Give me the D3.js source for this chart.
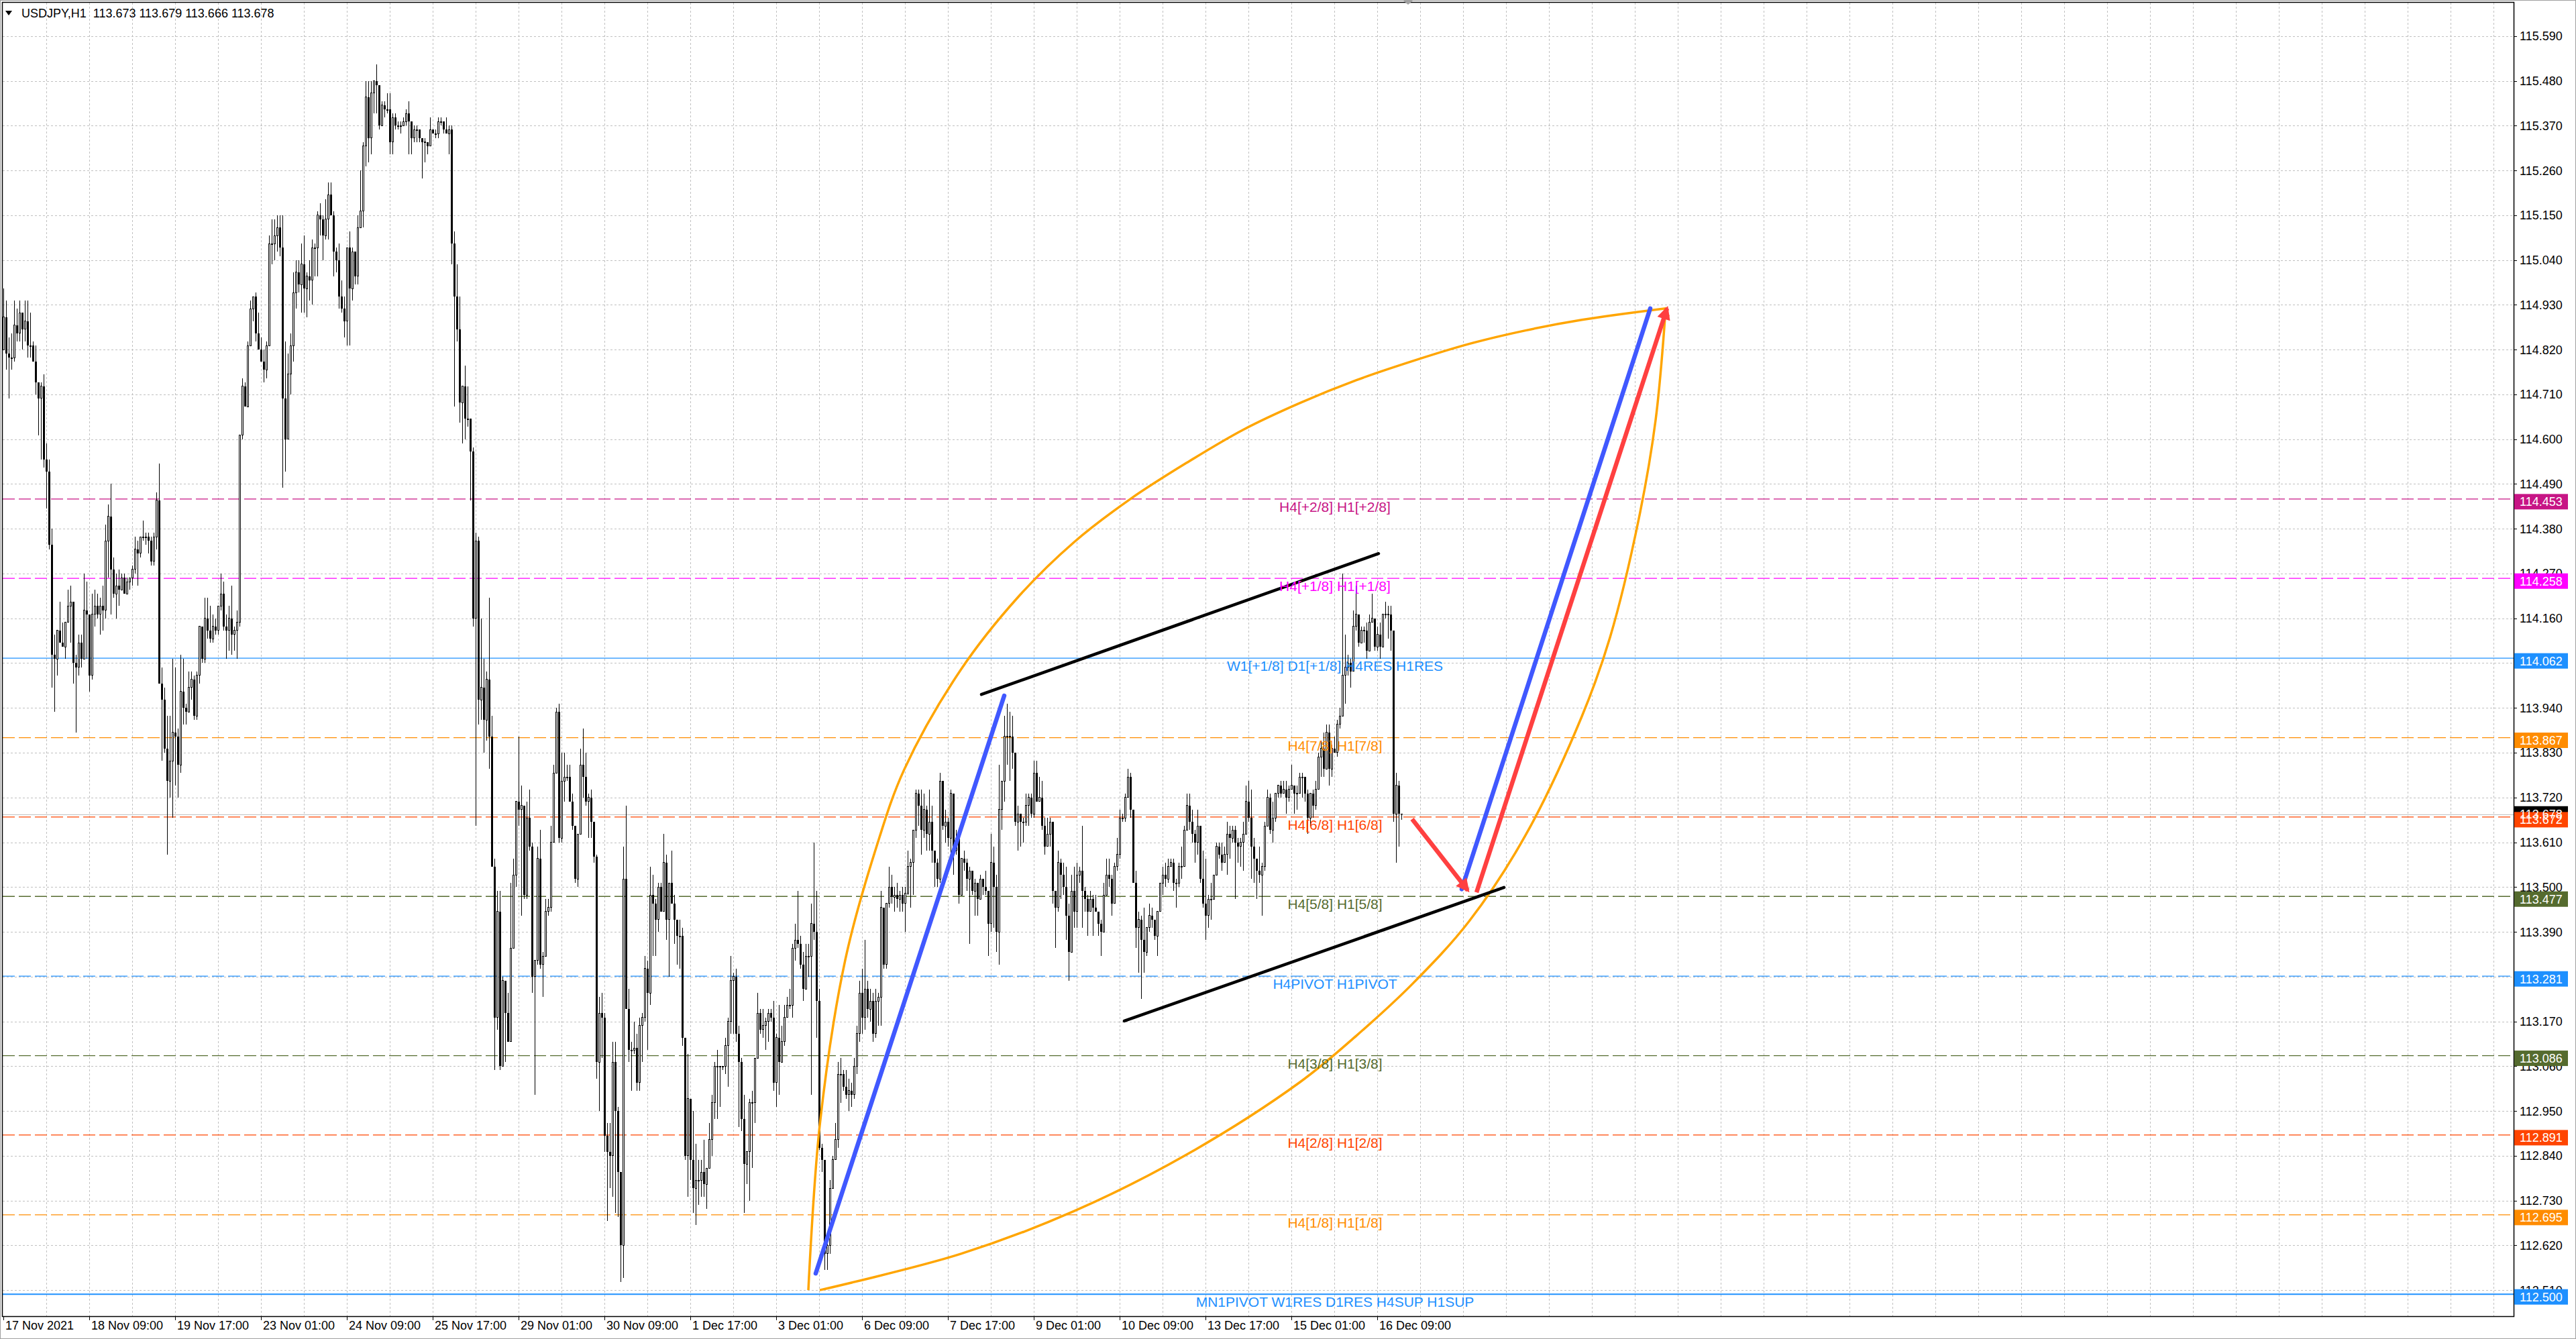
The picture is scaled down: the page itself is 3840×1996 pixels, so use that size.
<!DOCTYPE html>
<html>
<head>
<meta charset="utf-8">
<script src="https://cdn.jsdelivr.net/npm/d3@7"></script>
<style>
  html, body { margin: 0; padding: 0; background: #fff; }
  svg { display: block; }
  text { font-family: "Liberation Sans", Arial, sans-serif; }
</style>
</head>
<body>
<div id="chart"></div>
<script>
// ---- data ----
const title = "USDJPY,H1  113.673 113.679 113.666 113.678";
const open0 = 114.82;
const lastPrice = 113.678;

const closes = [
  // 17 - 19 Nov
  114.90,114.81,114.80,114.80,114.88,114.86,114.91,114.87,114.89,114.83,
  114.83,114.79,114.74,114.70,114.73,114.55,114.52,114.34,114.07,114.06,
  114.13,114.10,114.09,114.15,114.19,114.20,114.05,114.04,114.10,114.06,
  114.18,114.17,114.02,114.17,114.19,114.17,114.19,114.18,114.35,114.41,
  114.28,114.22,114.24,114.23,114.26,114.22,114.25,114.26,114.28,114.33,
  114.32,114.36,114.36,114.36,114.35,114.30,114.36,114.45,114.00,113.96,
  113.84,113.76,113.81,113.88,113.87,113.80,113.98,113.94,113.93,113.99,
  114.01,113.92,114.02,114.14,114.06,114.16,114.13,114.11,114.14,114.13,
  114.19,114.22,114.14,114.13,114.16,114.12,114.13,114.15,114.61,114.73,
  114.68,114.83,114.92,114.95,114.86,114.82,114.79,114.77,114.83,115.08,
  115.08,115.10,115.12,115.07,
  // 23 - 29 Nov
  114.70,114.60,114.76,114.83,114.96,115.01,114.98,115.03,114.97,115.00,
  114.99,115.07,115.07,115.15,115.14,115.10,115.14,115.20,115.15,115.06,
  115.04,114.95,114.92,114.89,115.07,114.97,115.06,115.00,115.12,115.16,
  115.32,115.44,115.34,115.45,115.48,115.47,115.37,115.42,115.41,115.41,
  115.33,115.39,115.37,115.37,115.37,115.38,115.40,115.38,115.34,115.36,
  115.36,115.34,115.33,115.33,115.32,115.36,115.35,115.35,115.38,115.38,
  115.36,115.35,115.36,115.08,114.95,114.87,114.69,114.73,114.65,114.65,
  114.57,114.16,114.35,113.96,113.99,113.91,114.01,113.87,113.55,113.18,
  113.44,113.06,113.27,113.19,113.12,113.35,113.53,113.71,113.69,113.70,
  113.48,113.67,113.60,113.28,113.32,113.57,113.31,113.33,113.44,113.45,
  113.61,113.78,113.93,113.62,113.76,113.77,113.77,113.71,113.65,
  // 29 Nov - 3 Dec
  113.52,113.63,113.80,113.77,113.71,113.72,113.66,113.575,113.07,113.19,
  113.18,112.89,112.85,112.84,113.07,112.95,112.80,112.62,113.52,113.20,
  113.10,113.10,113.105,113.02,113.16,113.18,113.30,113.24,113.48,113.46,
  113.42,113.50,113.44,113.56,113.42,113.51,113.46,113.42,113.38,113.38,
  113.13,112.84,112.98,112.83,112.76,112.78,112.78,112.80,112.77,112.81,
  112.88,112.97,113.06,113.06,113.06,113.06,113.11,113.17,113.27,113.28,
  113.14,113.07,112.93,112.82,112.85,112.97,112.97,113.08,113.19,113.15,
  113.16,113.17,113.19,113.18,113.02,113.13,113.07,113.12,113.18,113.21,
  113.21,113.35,113.37,113.36,113.31,113.25,113.33,113.33,113.41,113.39,
  113.22,112.86,112.83,112.60,112.62,112.76,112.83,112.88,113.04,113.04,
  113.01,112.99,
  113.00,112.99,113.06,113.14,113.24,113.18,
  // 3 - 10 Dec
  113.25,113.20,113.22,113.14,113.22,113.23,113.45,113.31,113.46,113.50,
  113.475,113.48,113.47,113.48,113.46,113.485,113.55,113.56,113.64,113.73,
  113.70,113.64,113.69,113.63,113.66,113.59,113.56,113.52,113.76,113.65,
  113.66,113.62,113.73,113.59,113.62,113.48,113.57,113.56,113.52,113.54,
  113.49,113.51,113.47,113.52,113.50,113.49,113.41,113.56,113.50,113.39,
  113.69,113.76,113.87,113.87,113.87,113.83,113.66,113.68,113.66,113.66,
  113.70,113.72,113.68,113.78,113.71,113.72,113.65,113.60,113.63,113.66,
  113.49,113.45,113.56,113.53,113.50,113.43,113.34,113.49,113.44,113.53,
  113.54,113.49,113.47,113.44,113.47,113.45,113.44,113.41,113.39,113.48,
  113.53,113.52,113.46,113.55,113.58,113.67,113.67,
  // 10 - 16 Dec
  113.72,113.77,113.69,113.51,113.40,113.42,113.37,113.34,113.40,113.43,
  113.42,113.38,113.44,113.51,113.53,113.52,113.55,113.56,113.51,113.51,
  113.55,113.55,113.64,113.70,113.66,113.63,113.61,113.65,113.52,113.46,
  113.43,113.47,113.47,113.53,113.60,113.58,113.56,113.58,113.63,113.62,
  113.64,113.61,113.60,113.61,113.63,113.71,113.67,113.60,113.57,113.54,
  113.53,113.55,113.65,113.72,113.64,113.67,113.73,113.75,113.73,113.74,
  113.72,113.74,113.75,113.73,113.73,113.77,113.77,113.73,113.67,113.73,
  113.70,113.74,113.82,113.84,113.79,113.88,113.79,113.84,113.83,113.90,
  113.92,114.02,114.04,114.05,114.03,114.14,114.17,114.10,114.13,114.13,
  114.08,114.15,114.16,114.09,114.12,114.09,114.17,114.17,114.17,114.13,
  113.68,113.75,113.68,113.678
];

const highs = [
  114.97,114.94,114.85,114.86,114.94,114.92,114.94,114.91,114.94,114.94,
  114.91,114.84,114.83,114.74,114.74,114.76,114.59,114.55,114.38,114.12,
  114.13,114.20,114.15,114.15,114.23,114.24,114.20,114.07,114.12,114.12,
  114.27,114.25,114.17,114.22,114.23,114.22,114.21,114.24,114.39,114.44,
  114.49,114.31,114.27,114.28,114.27,114.27,114.26,114.26,114.29,114.36,
  114.35,114.36,114.40,114.37,114.37,114.36,114.37,114.47,114.54,114.04,
  113.99,113.92,113.92,114.06,114.04,113.89,114.07,114.06,113.95,114.03,
  114.03,114.02,114.03,114.14,114.14,114.21,114.21,114.19,114.17,114.16,
  114.19,114.27,114.25,114.17,114.19,114.24,114.14,114.18,114.61,114.75,
  114.74,114.84,114.94,114.95,114.96,114.91,114.85,114.82,114.84,115.10,
  115.14,115.14,115.15,115.15,
  115.15,114.84,114.81,114.86,115.01,115.04,115.04,115.08,115.10,115.01,
  115.04,115.09,115.08,115.16,115.18,115.15,115.19,115.23,115.23,115.16,
  115.07,115.08,114.99,114.95,115.07,115.11,115.07,115.06,115.15,115.26,
  115.33,115.48,115.48,115.48,115.48,115.52,115.47,115.43,115.43,115.45,
  115.45,115.40,115.40,115.38,115.38,115.39,115.41,115.43,115.38,115.37,
  115.37,115.36,115.34,115.34,115.33,115.39,115.36,115.36,115.39,115.39,
  115.38,115.39,115.37,115.37,115.11,115.03,114.95,114.73,114.78,114.73,
  114.65,114.58,114.37,114.36,114.16,114.06,114.03,114.21,113.92,113.57,
  113.49,113.49,113.28,113.27,113.24,113.51,113.57,113.71,113.87,113.75,
  113.70,113.71,113.74,113.61,113.32,113.60,113.64,113.34,113.47,113.47,
  113.65,113.80,113.94,113.95,113.83,113.83,113.80,113.80,113.73,
  113.65,113.63,113.84,113.89,113.83,113.73,113.74,113.66,113.58,113.23,
  113.24,113.19,112.92,112.92,113.12,113.12,112.96,112.80,113.60,113.70,
  113.25,113.12,113.17,113.14,113.18,113.19,113.33,113.32,113.55,113.53,
  113.47,113.51,113.51,113.63,113.58,113.51,113.59,113.48,113.42,113.42,
  113.40,113.13,113.09,112.98,112.95,112.87,112.83,112.83,112.88,112.81,
  112.92,112.99,113.07,113.10,113.06,113.06,113.13,113.18,113.33,113.29,
  113.30,113.16,113.08,112.99,112.85,112.98,113.00,113.08,113.24,113.20,
  113.20,113.18,113.20,113.20,113.22,113.14,113.21,113.16,113.21,113.23,
  113.25,113.36,113.41,113.49,113.38,113.34,113.36,113.36,113.46,113.61,
  113.49,113.25,112.87,112.83,112.63,112.78,112.84,112.92,113.07,113.08,
  113.05,113.05,
  113.03,113.02,113.08,113.16,113.27,113.30,
  113.37,113.27,113.25,113.24,113.25,113.24,113.49,113.45,113.46,113.55,
  113.53,113.50,113.51,113.49,113.50,113.50,113.59,113.57,113.64,113.74,
  113.74,113.74,113.73,113.70,113.74,113.70,113.59,113.57,113.78,113.76,
  113.69,113.67,113.74,113.73,113.64,113.63,113.57,113.59,113.57,113.55,
  113.54,113.52,113.51,113.53,113.52,113.54,113.49,113.63,113.60,113.53,
  113.80,113.76,113.92,113.95,113.93,113.92,113.83,113.70,113.68,113.67,
  113.73,113.73,113.73,113.81,113.81,113.77,113.76,113.67,113.67,113.67,
  113.66,113.49,113.59,113.57,113.56,113.55,113.46,113.53,113.55,113.56,
  113.55,113.65,113.50,113.48,113.49,113.48,113.48,113.44,113.42,113.51,
  113.57,113.57,113.53,113.56,113.62,113.69,113.68,
  113.73,113.79,113.78,113.69,113.54,113.44,113.43,113.45,113.40,113.46,
  113.45,113.42,113.44,113.51,113.55,113.56,113.57,113.57,113.57,113.52,
  113.56,113.60,113.65,113.73,113.73,113.69,113.64,113.69,113.65,113.59,
  113.57,113.48,113.51,113.53,113.61,113.61,113.61,113.60,113.66,113.65,
  113.65,113.65,113.62,113.62,113.66,113.75,113.76,113.74,113.62,113.57,
  113.60,113.56,113.66,113.74,113.73,113.71,113.73,113.75,113.76,113.76,
  113.76,113.75,113.80,113.75,113.75,113.78,113.78,113.77,113.74,113.73,
  113.74,113.76,113.83,113.86,113.88,113.90,113.90,113.85,113.87,113.91,
  113.94,114.27,114.12,114.07,114.06,114.18,114.24,114.17,114.14,114.14,
  114.15,114.17,114.22,114.16,114.14,114.15,114.17,114.20,114.19,114.19,
  114.13,113.78,113.76,113.679
];

const lows = [
  114.82,114.77,114.70,114.77,114.79,114.84,114.84,114.82,114.84,114.80,
  114.80,114.79,114.71,114.61,114.55,114.53,114.43,114.33,113.99,113.93,
  114.02,114.10,114.09,114.06,114.15,114.10,114.00,113.88,114.02,114.04,
  114.06,114.06,113.98,114.01,114.14,114.16,114.12,114.13,114.16,114.26,
  114.17,114.21,114.16,114.19,114.23,114.22,114.22,114.23,114.24,114.27,
  114.24,114.31,114.35,114.34,114.32,114.29,114.29,114.33,114.00,113.81,
  113.83,113.58,113.72,113.67,113.75,113.72,113.78,113.90,113.90,113.93,
  113.96,113.91,113.91,114.00,114.05,114.05,114.11,114.10,114.10,114.12,
  114.12,114.18,114.13,114.06,114.08,114.07,114.08,114.06,114.14,114.60,
  114.68,114.68,114.83,114.89,114.84,114.82,114.79,114.74,114.75,114.83,
  115.03,115.04,115.06,115.05,
  114.48,114.52,114.60,114.71,114.79,114.92,114.96,114.91,114.91,114.90,
  114.94,114.93,115.00,115.00,115.10,115.04,115.09,115.09,115.15,115.00,
  115.01,114.92,114.91,114.85,114.83,114.83,114.94,114.98,114.98,115.12,
  115.12,115.27,115.28,115.30,115.40,115.40,115.36,115.37,115.39,115.40,
  115.30,115.30,115.36,115.36,115.35,115.37,115.37,115.30,115.30,115.33,
  115.33,115.33,115.24,115.28,115.30,115.32,115.35,115.34,115.34,115.37,
  115.35,115.35,115.30,115.03,114.68,114.84,114.64,114.59,114.60,114.63,
  114.45,114.14,113.65,113.90,113.91,113.83,113.86,113.79,113.55,113.05,
  113.15,113.05,113.06,113.07,113.12,113.13,113.35,113.50,113.65,113.43,
  113.47,113.47,113.59,113.24,112.99,113.31,113.30,113.23,113.33,113.43,
  113.44,113.61,113.78,113.61,113.61,113.71,113.76,113.71,113.64,
  113.51,113.50,113.63,113.72,113.70,113.62,113.62,113.56,113.03,112.95,
  113.08,112.85,112.68,112.76,112.74,112.70,112.69,112.53,112.54,113.20,
  113.07,113.00,113.09,113.00,113.00,113.07,113.17,113.10,113.21,113.33,
  113.33,113.39,113.44,113.44,113.37,113.28,113.46,113.36,113.31,113.30,
  113.11,112.83,112.74,112.78,112.70,112.67,112.72,112.74,112.74,112.71,
  112.81,112.84,112.93,112.93,112.96,113.05,113.04,113.01,113.14,113.14,
  113.12,112.91,112.90,112.70,112.77,112.73,112.81,112.92,113.08,113.14,
  113.13,113.10,113.12,113.17,113.00,112.96,112.99,113.07,113.11,113.18,
  113.20,113.18,113.32,113.35,113.30,113.22,113.25,113.28,112.99,113.37,
  113.13,112.855,112.80,112.56,112.56,112.60,112.76,112.83,112.86,112.97,
  113.00,112.98,
  112.95,112.96,112.98,113.04,113.12,113.14,
  113.15,113.18,113.17,113.12,113.13,113.16,113.16,113.30,113.30,113.45,
  113.46,113.44,113.45,113.44,113.44,113.39,113.48,113.45,113.48,113.62,
  113.65,113.58,113.62,113.59,113.59,113.56,113.50,113.50,113.51,113.64,
  113.61,113.60,113.56,113.53,113.58,113.46,113.48,113.54,113.49,113.36,
  113.48,113.43,113.43,113.47,113.48,113.48,113.33,113.39,113.40,113.34,
  113.31,113.64,113.71,113.80,113.76,113.79,113.65,113.59,113.60,113.61,
  113.65,113.65,113.67,113.67,113.71,113.71,113.64,113.58,113.60,113.60,
  113.46,113.35,113.44,113.47,113.48,113.37,113.27,113.34,113.40,113.40,
  113.51,113.40,113.44,113.38,113.44,113.38,113.44,113.38,113.33,113.39,
  113.48,113.50,113.43,113.46,113.54,113.57,113.66,
  113.66,113.72,113.67,113.51,113.35,113.29,113.225,113.29,113.33,113.39,
  113.40,113.37,113.33,113.44,113.48,113.50,113.51,113.55,113.49,113.45,
  113.50,113.52,113.55,113.64,113.64,113.61,113.56,113.58,113.51,113.45,
  113.37,113.40,113.42,113.47,113.53,113.57,113.54,113.57,113.53,113.57,
  113.61,113.47,113.56,113.55,113.54,113.63,113.66,113.52,113.51,113.47,
  113.51,113.43,113.54,113.65,113.63,113.61,113.66,113.72,113.72,113.73,
  113.68,113.71,113.74,113.68,113.69,113.73,113.72,113.71,113.63,113.65,
  113.67,113.69,113.74,113.77,113.77,113.79,113.75,113.77,113.83,113.82,
  113.89,113.94,113.95,114.02,113.99,114.03,114.13,114.09,114.10,114.10,
  114.06,114.08,114.15,114.08,114.08,114.06,114.14,114.16,114.11,114.08,
  113.66,113.56,113.60,113.666
];

const priceTicks = [112.510, 112.620, 112.730, 112.840, 112.950, 113.060, 113.170, 113.280,
  113.390, 113.500, 113.610, 113.720, 113.830, 113.940, 114.050, 114.160, 114.270, 114.380,
  114.490, 114.600, 114.710, 114.820, 114.930, 115.040, 115.150, 115.260, 115.370, 115.480, 115.590];

const timeLabels = ["17 Nov 2021", "18 Nov 09:00", "19 Nov 17:00", "23 Nov 01:00", "24 Nov 09:00",
  "25 Nov 17:00", "29 Nov 01:00", "30 Nov 09:00", "1 Dec 17:00", "3 Dec 01:00", "6 Dec 09:00",
  "7 Dec 17:00", "9 Dec 01:00", "10 Dec 09:00", "13 Dec 17:00", "15 Dec 01:00", "16 Dec 09:00"];
const timeLabelBars = [0, 32, 64, 96, 128, 160, 192, 224, 256, 288, 320, 352, 384, 416, 448, 480, 512];

// Murrey / pivot levels
const levelPrices = [114.453, 114.258, 114.062, 113.867, 113.672, 113.477, 113.281, 113.086, 112.891, 112.695, 112.500];
const levelNames = ["H4[+2/8] H1[+2/8]", "H4[+1/8] H1[+1/8]", "W1[+1/8] D1[+1/8] H4RES H1RES",
  "H4[7/8] H1[7/8]", "H4[6/8] H1[6/8]", "H4[5/8] H1[5/8]", "H4PIVOT H1PIVOT", "H4[3/8] H1[3/8]",
  "H4[2/8] H1[2/8]", "H4[1/8] H1[1/8]", "MN1PIVOT W1RES D1RES H4SUP H1SUP"];
const levelColors = ["#c71585", "#ff00ff", "#1e90ff", "#ff8c00", "#ff4500", "#556b2f",
  "#1e90ff", "#556b2f", "#ff4500", "#ff8c00", "#1e90ff"];
const levelSolid = [false, false, true, false, false, false, false, false, false, false, true];
const levelLabelBar = 496.25;

// drawn objects, as [bar, price]
const upperArc = [[300, 112.510], [304.25, 112.915], [313.75, 113.321], [325.25, 113.596],
  [335.75, 113.789], [356.75, 114.033], [378, 114.211], [399, 114.347], [420, 114.453],
  [441, 114.542], [462, 114.623], [483.25, 114.689], [504.25, 114.745], [525.25, 114.792],
  [546.25, 114.834], [567.25, 114.867], [588.25, 114.893], [619.5, 114.921]];
const lowerArc = [[304.25, 112.510], [356.75, 112.599], [399, 112.704], [441, 112.843],
  [483.25, 113.021], [504.25, 113.135], [525.25, 113.263], [546.25, 113.416], [567.25, 113.627],
  [588.25, 113.919], [598.75, 114.113], [609.5, 114.405], [615.75, 114.647], [619.5, 114.921]];
const blueLine1 = [[302.75, 112.551], [373, 113.970]];
const blueLine2 = [[543.5, 113.495], [613.75, 114.921]];
const redArrow1 = [[525, 113.667], [545.75, 113.492]];
const redArrow2 = [[549, 113.487], [620, 114.921]];
const channelTop = [[364.5, 113.973], [512.5, 114.319]];
const channelBottom = [[417.75, 113.171], [559.25, 113.499]];

// ---- drawing ----
const W = 3840, H = 1996;
const plot = { left: 4, right: 3747, top: 4, bottom: 1962 };

const svg = d3.select("#chart").append("svg")
  .attr("width", W).attr("height", H);

svg.append("rect").attr("width", W).attr("height", H).attr("fill", "#fff");

const defs = svg.append("defs");
defs.append("clipPath").attr("id", "plotClip")
  .append("rect")
  .attr("x", plot.left).attr("y", plot.top)
  .attr("width", plot.right - plot.left).attr("height", plot.bottom - plot.top);

function marker(id, color, w, h) {
  defs.append("marker")
    .attr("id", id)
    .attr("viewBox", "0 0 10 10")
    .attr("refX", 8).attr("refY", 5)
    .attr("markerWidth", w).attr("markerHeight", h)
    .attr("markerUnits", "userSpaceOnUse")
    .attr("orient", "auto")
    .append("path").attr("d", "M0,0 L10,5 L0,10 z").attr("fill", color);
}
marker("headRed", "#ff4040", 26, 20);
marker("headOrange", "#ffa500", 18, 14);

const x = d3.scaleLinear().domain([0, 935.5]).range([5, 3747]);
const y = d3.scaleLinear().domain([112.446, 115.672]).range([plot.bottom, plot.top]);

const bars = closes.map((c, i) => ({
  i: i,
  o: i === 0 ? open0 : closes[i - 1],
  h: highs[i],
  l: lows[i],
  c: c
}));

const chart = svg.append("g").attr("clip-path", "url(#plotClip)");

// grid
const grid = chart.append("g")
  .attr("stroke", "#c0c0c0").attr("stroke-width", 1)
  .attr("stroke-dasharray", "3,3").attr("shape-rendering", "crispEdges");
grid.selectAll("line.h").data(priceTicks).enter().append("line")
  .attr("class", "h")
  .attr("x1", plot.left).attr("x2", plot.right)
  .attr("y1", d => Math.round(y(d)) + 0.5).attr("y2", d => Math.round(y(d)) + 0.5);
grid.selectAll("line.v").data(d3.range(16, 936, 16)).enter().append("line")
  .attr("class", "v")
  .attr("x1", d => Math.round(x(d)) + 0.5).attr("x2", d => Math.round(x(d)) + 0.5)
  .attr("y1", plot.top).attr("y2", plot.bottom);

// level lines
chart.selectAll("line.level").data(levelPrices).enter().append("line")
  .attr("class", "level")
  .attr("x1", plot.left).attr("x2", plot.right)
  .attr("y1", d => y(d)).attr("y2", d => y(d))
  .attr("stroke", (d, i) => levelColors[i])
  .attr("stroke-width", (d, i) => i === levelPrices.length - 1 ? 2 : 1.3)
  .attr("stroke-dasharray", (d, i) => levelSolid[i] ? null : "18,6");

// bid line
chart.append("line")
  .attr("x1", plot.left).attr("x2", plot.right)
  .attr("y1", Math.round(y(lastPrice)) + 0.5).attr("y2", Math.round(y(lastPrice)) + 0.5)
  .attr("stroke", "#c0c0c0").attr("stroke-width", 1);

// candles
const candles = chart.append("g").attr("shape-rendering", "crispEdges");
candles.selectAll("line.wick").data(bars).enter().append("line")
  .attr("class", "wick")
  .attr("x1", d => Math.round(x(d.i)) + 0.5).attr("x2", d => Math.round(x(d.i)) + 0.5)
  .attr("y1", d => y(d.h)).attr("y2", d => y(d.l))
  .attr("stroke", "#000").attr("stroke-width", 1);
candles.selectAll("rect.body").data(bars).enter().append("rect")
  .attr("class", "body")
  .attr("x", d => d.c >= d.o ? Math.round(x(d.i)) - 0.5 : Math.round(x(d.i)) - 1)
  .attr("width", d => d.c >= d.o ? 2 : 3)
  .attr("y", d => y(Math.max(d.o, d.c)))
  .attr("height", d => Math.max(1, Math.abs(y(d.o) - y(d.c))))
  .attr("fill", d => d.c >= d.o ? "#fff" : "#000")
  .attr("stroke", d => d.c >= d.o ? "#000" : "none")
  .attr("stroke-width", 1);

// drawn objects
const lineGen = d3.line().x(d => x(d[0])).y(d => y(d[1]));
const arcGen = d3.line().x(d => x(d[0])).y(d => y(d[1])).curve(d3.curveCatmullRom.alpha(0.5));

chart.append("path").datum(upperArc).attr("d", arcGen)
  .attr("fill", "none").attr("stroke", "#ffa500").attr("stroke-width", 3.5);
chart.append("path").datum(lowerArc).attr("d", arcGen)
  .attr("fill", "none").attr("stroke", "#ffa500").attr("stroke-width", 3.5)
  .attr("marker-end", "url(#headOrange)");

[channelTop, channelBottom].forEach(seg => {
  chart.append("path").datum(seg).attr("d", lineGen)
    .attr("fill", "none").attr("stroke", "#000").attr("stroke-width", 4.5)
    .attr("stroke-linecap", "round");
});

[blueLine1, blueLine2].forEach(seg => {
  chart.append("path").datum(seg).attr("d", lineGen)
    .attr("fill", "none").attr("stroke", "#4058ff").attr("stroke-width", 6.5)
    .attr("stroke-linecap", "round");
});

[redArrow1, redArrow2].forEach(seg => {
  chart.append("path").datum(seg).attr("d", lineGen)
    .attr("fill", "none").attr("stroke", "#ff4040").attr("stroke-width", 6.5)
    .attr("marker-end", "url(#headRed)");
});

// level captions
chart.selectAll("text.levelName").data(levelPrices).enter().append("text")
  .attr("class", "levelName")
  .attr("x", x(levelLabelBar))
  .attr("y", d => y(d) + 19)
  .attr("text-anchor", "middle")
  .attr("font-size", 21)
  .attr("fill", (d, i) => levelColors[i])
  .text((d, i) => levelNames[i]);

// plot border
svg.append("rect")
  .attr("x", plot.left - 0.5).attr("y", plot.top - 0.5)
  .attr("width", plot.right - plot.left + 1).attr("height", plot.bottom - plot.top + 1)
  .attr("fill", "none").attr("stroke", "#000").attr("stroke-width", 1.5);

// price axis
const axisG = svg.append("g");
axisG.selectAll("line.tick").data(priceTicks).enter().append("line")
  .attr("x1", plot.right).attr("x2", plot.right + 5)
  .attr("y1", d => Math.round(y(d)) + 0.5).attr("y2", d => Math.round(y(d)) + 0.5)
  .attr("stroke", "#000").attr("stroke-width", 1);
axisG.selectAll("text.tick").data(priceTicks).enter().append("text")
  .attr("x", 3756).attr("y", d => y(d)).attr("dy", "0.36em")
  .attr("font-size", 18).attr("fill", "#000")
  .text(d => d.toFixed(3));

// price boxes (bid box sits a little higher, the level boxes are drawn over it)
const boxes = [{ p: lastPrice, color: "#000", off: -1 }].concat(
  levelPrices.map((p, i) => ({ p: p, color: levelColors[i], off: 4 })));
const boxG = svg.append("g");
boxG.selectAll("rect").data(boxes).enter().append("rect")
  .attr("x", plot.right + 1).attr("y", d => y(d.p) + d.off - 11.5)
  .attr("width", 80).attr("height", 23)
  .attr("fill", d => d.color);
boxG.selectAll("text").data(boxes).enter().append("text")
  .attr("x", 3756).attr("y", d => y(d.p) + d.off).attr("dy", "0.36em")
  .attr("font-size", 18).attr("fill", "#fff")
  .text(d => d.p.toFixed(3));

// time axis
const timeG = svg.append("g");
timeG.selectAll("line").data(timeLabelBars).enter().append("line")
  .attr("x1", d => Math.round(x(d)) + 0.5).attr("x2", d => Math.round(x(d)) + 0.5)
  .attr("y1", plot.bottom).attr("y2", plot.bottom + 6)
  .attr("stroke", "#000").attr("stroke-width", 1);
timeG.selectAll("text").data(timeLabelBars).enter().append("text")
  .attr("x", d => x(d) + 3).attr("y", 1982)
  .attr("font-size", 18).attr("fill", "#000")
  .text((d, i) => timeLabels[i]);

// title
svg.append("path").attr("d", "M8,16 L18,16 L13,23 Z").attr("fill", "#000");
svg.append("text").attr("x", 32).attr("y", 26)
  .attr("font-size", 18).attr("fill", "#000")
  .attr("xml:space", "preserve").style("white-space", "pre")
  .text(title);

// chart shift marker
svg.append("path").attr("d", "M2091,0 L2107,0 L2099,7 Z").attr("fill", "#a0a0a0");

// window frame
svg.append("rect").attr("x", 0.5).attr("y", 0.5).attr("width", W - 1).attr("height", H - 1)
  .attr("fill", "none").attr("stroke", "#a0a0a0").attr("stroke-width", 1);
</script>
</body>
</html>
